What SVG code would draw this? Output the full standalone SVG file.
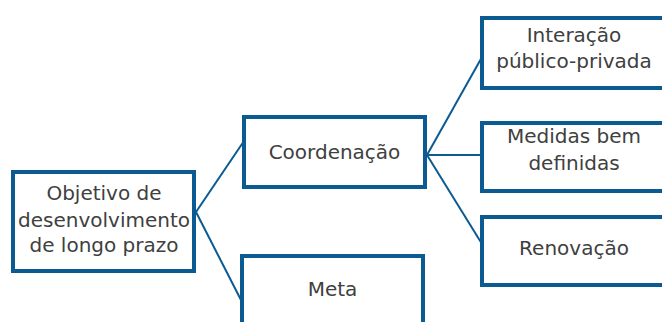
<svg xmlns="http://www.w3.org/2000/svg" width="662" height="322" viewBox="0 0 662 322">
<style>
.box{fill:#fff;stroke:#0b5a92;stroke-width:4}
.lbl{font-family:"DejaVu Sans",Verdana,sans-serif;font-size:20px;fill:#404040;text-anchor:middle}
.con{stroke:#0b5a92;stroke-width:2;fill:none}
</style>
<rect width="662" height="322" fill="#fff"/>
<g id="connectors">
<line class="con" x1="196" y1="212" x2="244" y2="141"/>
<line class="con" x1="196" y1="212" x2="242" y2="302"/>
<line class="con" x1="427" y1="155" x2="482" y2="57"/>
<line class="con" x1="427" y1="155" x2="482" y2="155"/>
<line class="con" x1="427" y1="155" x2="482" y2="244"/>
</g>
<g id="objetivo">
<rect class="box" x="13" y="172" width="181" height="99"/>
<text class="lbl" x="104" y="200">Objetivo de</text>
<text class="lbl" x="104" y="227">desenvolvimento</text>
<text class="lbl" x="104" y="252">de longo prazo</text>
</g>
<g id="coordenacao">
<rect class="box" x="244" y="117" width="181" height="70"/>
<text class="lbl" x="334.5" y="159">Coordenação</text>
</g>
<g id="meta">
<rect class="box" x="242" y="256" width="181" height="80"/>
<text class="lbl" x="332.5" y="296">Meta</text>
</g>
<g id="interacao">
<rect class="box" x="482" y="18" width="185" height="70"/>
<text class="lbl" x="574" y="42">Interação</text>
<text class="lbl" x="574" y="68">público-privada</text>
</g>
<g id="medidas">
<rect class="box" x="482" y="123" width="185" height="68"/>
<text class="lbl" x="574" y="143">Medidas bem</text>
<text class="lbl" x="574" y="170">definidas</text>
</g>
<g id="renovacao">
<rect class="box" x="482" y="217" width="185" height="68"/>
<text class="lbl" x="574" y="255">Renovação</text>
</g>
</svg>
